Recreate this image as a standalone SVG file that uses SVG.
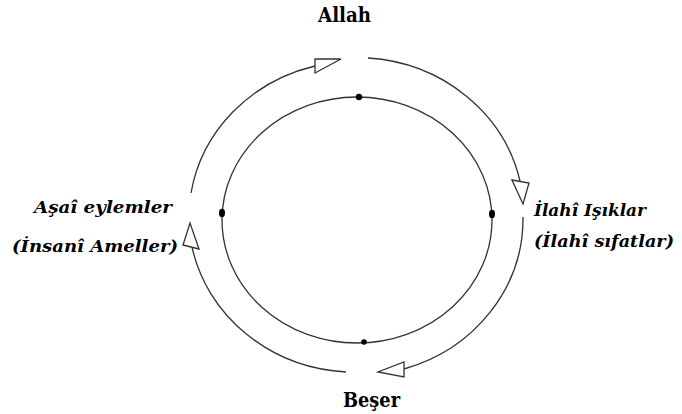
<svg xmlns="http://www.w3.org/2000/svg" width="682" height="414" viewBox="0 0 682 414">
<style>
.ln{fill:none;stroke:#333;stroke-width:1.3}
.ah{fill:#fff;stroke:#333;stroke-width:1.3;stroke-linejoin:miter}
.dot{fill:#000}
text{font-family:'DejaVu Serif',serif;font-weight:bold;fill:#000}
.ti{font-style:italic}
</style>
<rect width="682" height="414" fill="#fff"/>
<g id="inner">
<ellipse class="ln" cx="357" cy="220" rx="135" ry="123"/>
<circle class="dot" cx="359" cy="97" r="3.2"/>
<ellipse class="dot" cx="222" cy="213" rx="3" ry="4.2"/>
<ellipse class="dot" cx="492" cy="214" rx="3" ry="4.2"/>
<circle class="dot" cx="364" cy="342" r="2.8"/>
</g>
<g id="connectors">
<path class="ln" d="M191,193 A167,157 0 0 1 315,66"/>
<polygon class="ah" points="315,59 341,59 315,73"/>
<path class="ln" d="M368,58 A167,157 0 0 1 520,181"/>
<polygon class="ah" points="512,180 529,183 523,204"/>
<path class="ln" d="M523,217 A167,157 0 0 1 404,369"/>
<polygon class="ah" points="404,362 404,377 378,372"/>
<path class="ln" d="M346,372 A167,157 0 0 1 192,247"/>
<polygon class="ah" points="183,245 199,249 190,223"/>
</g>
<g id="allah"><text x="318" y="22" font-size="20" textLength="53" lengthAdjust="spacingAndGlyphs">Allah</text></g>
<g id="beser"><text x="343" y="407" font-size="21" textLength="57" lengthAdjust="spacingAndGlyphs">Beşer</text></g>
<g id="ilahi">
<text class="ti" x="534" y="216" font-size="17" textLength="112" lengthAdjust="spacingAndGlyphs">İlahî Işıklar</text>
<text class="ti" x="534" y="247" font-size="17" textLength="140" lengthAdjust="spacingAndGlyphs">(İlahî sıfatlar)</text>
</g>
<g id="asai">
<text class="ti" x="34" y="213" font-size="17" textLength="138" lengthAdjust="spacingAndGlyphs">Aşaî eylemler</text>
<text class="ti" x="12" y="252" font-size="17" textLength="166" lengthAdjust="spacingAndGlyphs">(İnsanî Ameller)</text>
</g>
</svg>
